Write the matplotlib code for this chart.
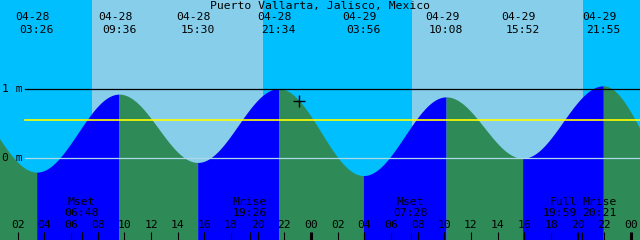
import numpy as np
import matplotlib
matplotlib.use("Agg")
import matplotlib.pyplot as plt
import matplotlib.transforms as mtrans

station = "Puerto Vallarta, Jalisco, Mexico"

# tide extremes, hours from 04-28 00:00 (first and last lie outside the window)
tide_hours = [-2.83, 3.43, 9.60, 15.50, 21.57, 27.93, 34.13, 39.87, 45.92, 51.67]
tide_heights = [0.97, -0.20, 0.93, -0.06, 1.01, -0.25, 0.89, 0.00, 1.05, -0.28]
tide_dates = ["04-28", "04-28", "04-28", "04-28", "04-29", "04-29", "04-29", "04-29"]
tide_clock = ["03:26", "09:36", "15:30", "21:34", "03:56", "10:08", "15:52", "21:55"]

# daylight (sunrise, sunset) in hours
sunrise = [7.58, 31.60]
sunset = [20.40, 44.40]

# moon events
moon_hours = [6.80, 19.43, 31.47, 43.98, 44.35]
moon_names = ["Mset", "Mrise", "Mset", "Full", "Mrise"]
moon_clock = ["06:48", "19:26", "07:28", "19:59", "20:21"]
moon_align = ["center", "center", "center", "right", "left"]

mean_level = 0.55
now_hour, now_height = 23.12, 0.83

t0, t1 = 0.675, 48.675
ybot, ytop = -1.184, 2.294
night, day = "#00BFFF", "#87CEEB"
rise_col, fall_col = "#0000FF", "#2E8B57"
font = dict(family="DejaVu Sans Mono", size=8.2, color="black")

fig = plt.figure(figsize=(6.4, 2.4), dpi=100)
ax = fig.add_axes([0, 0, 1, 1])
ax.set_xlim(t0, t1)
ax.set_ylim(ybot, ytop)
ax.axis("off")

# sky
ax.axvspan(t0, t1, color=night, lw=0, zorder=0)
for a, b in zip(sunrise, sunset):
    ax.axvspan(a, b, color=day, lw=0, zorder=0)

# tide curve, rising water in blue, falling in green
for i in range(len(tide_hours) - 1):
    ha, hb = tide_hours[i], tide_hours[i + 1]
    za, zb = tide_heights[i], tide_heights[i + 1]
    tt = np.linspace(ha, hb, 200)
    zz = za + (zb - za) * (1 - np.cos(np.pi * (tt - ha) / (hb - ha))) / 2
    col = rise_col if zb > za else fall_col
    ax.fill_between(tt, ybot, zz, color=col, lw=0, zorder=1)

# reference lines
ax.axhline(1.0, xmin=25 / 640, color="black", lw=0.9, zorder=2)
ax.axhline(0.0, xmin=25 / 640, color="#ADD8E6", lw=0.9, zorder=2)
ax.axhline(mean_level, xmin=25 / 640, color="#FFFF00", lw=1.2, zorder=2)
ytrans = mtrans.blended_transform_factory(ax.transAxes, ax.transData)
ax.text(0.003, 1.0, "1 m", ha="left", va="center", transform=ytrans, **font)
ax.text(0.003, 0.0, "0 m", ha="left", va="center", transform=ytrans, **font)

ax.plot(now_hour, now_height, marker="+", color="black", ms=8, mew=1, zorder=3)

trans = mtrans.blended_transform_factory(ax.transData, ax.transAxes)

# header
ax.text(0.5, 0.977, station, ha="center", va="center", transform=ax.transAxes, **font)
for h, d, c in zip(tide_hours[1:-1], tide_dates, tide_clock):
    ax.text(h - 0.3, 0.928, d, ha="center", va="center", transform=trans, **font)
    ax.text(h, 0.875, c, ha="center", va="center", transform=trans, **font)

# hour ticks
for h in range(2, 49, 2):
    lw = 2.2 if h % 24 == 0 else 0.8
    ax.plot([h, h], [0, 0.035], color="black", lw=lw, transform=trans, zorder=3, solid_capstyle="butt")
    ax.text(h, 0.0625, f"{h % 24:02d}", ha="center", va="center", transform=trans, **font)

# moon events
for h, n, c, al in zip(moon_hours, moon_names, moon_clock, moon_align):
    ax.plot([h, h], [0, 0.035], color="black", lw=0.8, transform=trans, zorder=3, solid_capstyle="butt")
    ax.text(h, 0.16, n, ha=al, va="center", transform=trans, **font)
    ax.text(h, 0.111, c, ha=al, va="center", transform=trans, **font)

fig.savefig("out.png", dpi=100)
